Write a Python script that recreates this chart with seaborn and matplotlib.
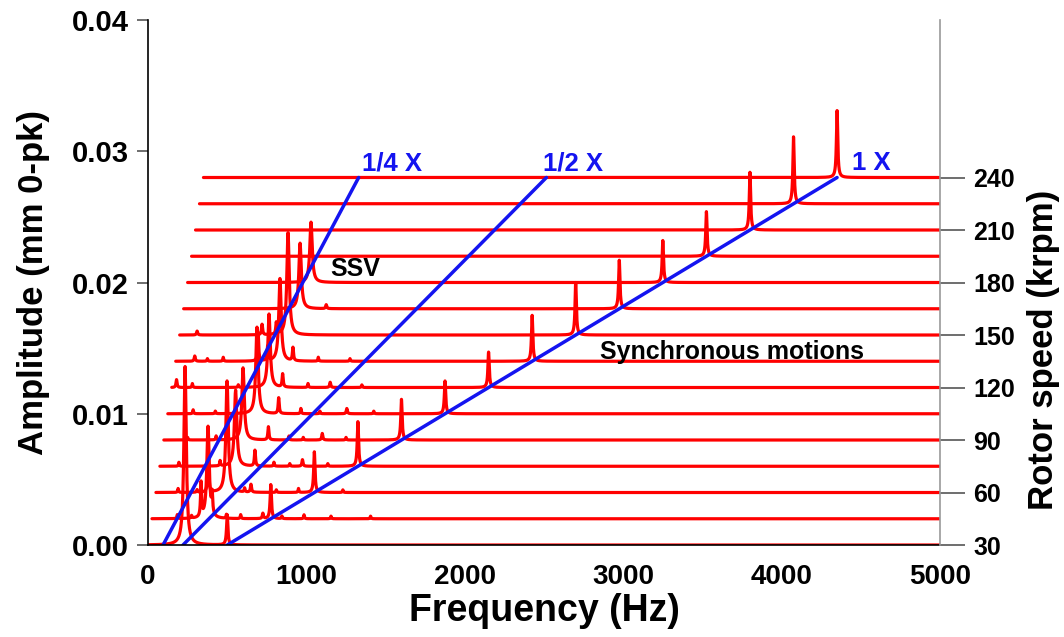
import numpy as np
import pandas as pd
import matplotlib
matplotlib.use("Agg")
import matplotlib.pyplot as plt
import seaborn as sns

# Rotor speeds of the waterfall rows (krpm)
speeds_krpm = [30, 45, 60, 75, 90, 105, 120, 135, 150, 165, 180, 195, 210, 225, 240]

# Synchronous (1X) amplitude of each row (mm 0-pk)
sync_amp = [0.0023, 0.0026, 0.0031, 0.0034, 0.0031, 0.0025, 0.0027, 0.0035,
            0.0040, 0.0037, 0.0032, 0.0034, 0.0044, 0.0051, 0.0051]

# Sub-synchronous (SSV) component of each row: frequency (Hz) and amplitude
ssv_freq = [234, 354, 449, 478, 500, 563, 614, 658, 684, 735, 779, 0, 0, 0, 0]
ssv_amp = [0.0136, 0.0070, 0.0085, 0.0058, 0.0055, 0.0066, 0.0056, 0.0063,
           0.0078, 0.0050, 0.0046, 0.0, 0.0, 0.0, 0.0]

# Smaller spectral lines: row index, frequency (Hz), amplitude
minor_row = [1, 1, 1, 2, 2, 3, 3, 4, 4, 5, 5, 6, 6, 6, 7, 7, 7, 7, 8, 8, 8, 9]
minor_freq = [310, 380, 700, 330, 600, 600, 900, 660, 1000, 700, 1130, 30, 700, 1000,
              120, 520, 580, 740, 110, 520, 610, 900]
minor_amp = [0.0026, 0.0015, 0.0004, 0.0030, 0.0006, 0.0012, 0.0005, 0.0010, 0.0005,
             0.0012, 0.0004, 0.0006, 0.0010, 0.0004, 0.0004, 0.0022, 0.0011, 0.0010,
             0.0003, 0.0008, 0.0009, 0.0003]

# Low-level background lines on the noisier rows: row index, frequency (Hz), amplitude
noise_row = [1, 1, 1, 1, 1, 1, 1, 1, 2, 2, 2, 2, 2, 2, 3, 3, 3, 3, 3, 3,
             4, 4, 4, 4, 4, 5, 5, 5, 5, 5, 6, 6, 6, 6, 7, 7, 7, 7]
noise_freq = [160, 250, 470, 560, 820, 960, 1130, 1380, 140, 260, 560, 760, 900, 1180,
              120, 300, 380, 720, 820, 1060, 150, 330, 790, 880, 1150, 160, 300, 840,
              960, 1300, 130, 420, 860, 1200, 200, 300, 900, 1100]
noise_amp = [0.0003, 0.0002, 0.0003, 0.0003, 0.0002, 0.0003, 0.0002, 0.0002,
             0.0003, 0.0002, 0.0003, 0.0002, 0.0003, 0.0002, 0.0003, 0.0002, 0.0004,
             0.0003, 0.0002, 0.0002, 0.0002, 0.0003, 0.0003, 0.0002, 0.0002, 0.0003,
             0.0002, 0.0004, 0.0002, 0.0002, 0.0003, 0.0002, 0.0003, 0.0002, 0.0002,
             0.0003, 0.0003, 0.0002]

# Order-tracking guide lines: label, frequency at the lowest and highest row
guide_labels = ["1/4 X", "1/2 X", "1 X"]
guide_f_low = [95, 221, 500]
guide_f_high = [1330, 2515, 4350]

x_ticks = [0, 1000, 2000, 3000, 4000, 5000]
amp_ticks = [0.00, 0.01, 0.02, 0.03, 0.04]
speed_ticks = [30, 60, 90, 120, 150, 180, 210, 240]

# Waterfall layout
row_step = 0.002      # vertical offset between rows (mm)
row_skew = 25.0       # horizontal shift between rows (Hz)
sync_width = 5.0      # Lorentzian half width of the 1X lines (Hz)
ssv_width = 9.0       # Lorentzian half width of the sub-synchronous lines (Hz)
minor_width = 4.0

freq = np.arange(0, 5001, 1.0)


def line_shape(f0, a, w):
    return a * w ** 2 / ((freq - f0) ** 2 + w ** 2)


frames = []
for i, spd in enumerate(speeds_krpm):
    spec = line_shape(spd * 1000.0 / 60.0, sync_amp[i], sync_width)
    if ssv_amp[i] > 0:
        spec = spec + line_shape(ssv_freq[i], ssv_amp[i], ssv_width)
    for r, f0, a in zip(minor_row, minor_freq, minor_amp):
        if r == i:
            spec = spec + line_shape(f0, a, minor_width)
    for r, f0, a in zip(noise_row, noise_freq, noise_amp):
        if r == i:
            spec = spec + line_shape(f0, a, 3.0)
    frames.append(pd.DataFrame({
        "speed": spd,
        "freq": freq + row_skew * i,
        "amp": spec + row_step * i,
    }))
df = pd.concat(frames, ignore_index=True)

sns.set_style("white")
plt.rcParams["font.family"] = ["Liberation Sans", "DejaVu Sans"]
plt.rcParams["font.weight"] = "bold"
plt.rcParams["text.color"] = "black"
plt.rcParams["axes.labelcolor"] = "black"

fig = plt.figure(figsize=(10.64, 6.37), dpi=100)
ax = fig.add_axes([0.1391, 0.1444, 0.7444, 0.8242])

sns.lineplot(data=df, x="freq", y="amp", units="speed", estimator=None,
             color="#ff0000", lw=2.3, sort=False, ax=ax, legend=False)

blue = "#1414f0"
top_amp = row_step * (len(speeds_krpm) - 1)
label_x = [1351, 2494, 4444]
for lab, f_lo, f_hi, lx in zip(guide_labels, guide_f_low, guide_f_high, label_x):
    g = pd.DataFrame({"freq": [f_lo, f_hi], "amp": [0.0, top_amp]})
    sns.lineplot(data=g, x="freq", y="amp", color=blue, lw=2.5, ax=ax,
                 sort=False, legend=False)
    ax.text(lx, 0.02855, lab, color=blue, fontsize=18.5, fontweight="bold",
            ha="left", va="baseline")

ax.text(1307, 0.0210, "SSV", fontsize=18, fontweight="bold", ha="center", va="center")
ax.text(2854, 0.0147, "Synchronous motions", fontsize=18, fontweight="bold",
        ha="left", va="center")

ax.set_xlim(0, 5000)
ax.set_ylim(0, 0.04)
ax.set_xticks(x_ticks)
ax.set_yticks(amp_ticks)
ax.set_xticklabels([str(v) for v in x_ticks], fontsize=20, fontweight="bold")
ax.set_yticklabels([f"{v:.2f}" for v in amp_ticks], fontsize=21, fontweight="bold")
ax.set_xlabel("Frequency (Hz)", fontsize=27, fontweight="bold", labelpad=2)
ax.set_ylabel("Amplitude (mm 0-pk)", fontsize=25, fontweight="bold")
ax.yaxis.set_label_coords(-0.124, 0.5)
ax.tick_params(axis="both", direction="out", length=8, width=1.2, color="#555555",
               labelcolor="black", pad=6)
for side in ["top", "right"]:
    ax.spines[side].set_visible(False)
for side in ["left", "bottom"]:
    ax.spines[side].set_color("black")
    ax.spines[side].set_linewidth(1.2)

ax2 = ax.twinx()
ax2.set_ylim(speeds_krpm[0], speeds_krpm[0] + 0.04 / row_step * 15)
ax2.set_yticks(speed_ticks)
ax2.set_yticklabels([str(v) for v in speed_ticks], fontsize=18, fontweight="bold")
ax2.set_ylabel("Rotor speed (krpm)", fontsize=25, fontweight="bold")
ax2.yaxis.set_label_coords(1.110, 0.371)
ax2.tick_params(axis="y", direction="out", length=18, width=1.2, color="#555555",
                labelcolor="black", pad=6)
for side in ["top", "left", "bottom"]:
    ax2.spines[side].set_visible(False)
ax2.spines["right"].set_color("#999999")
ax2.spines["right"].set_linewidth(1.2)

fig.savefig("out.png", dpi=100)
